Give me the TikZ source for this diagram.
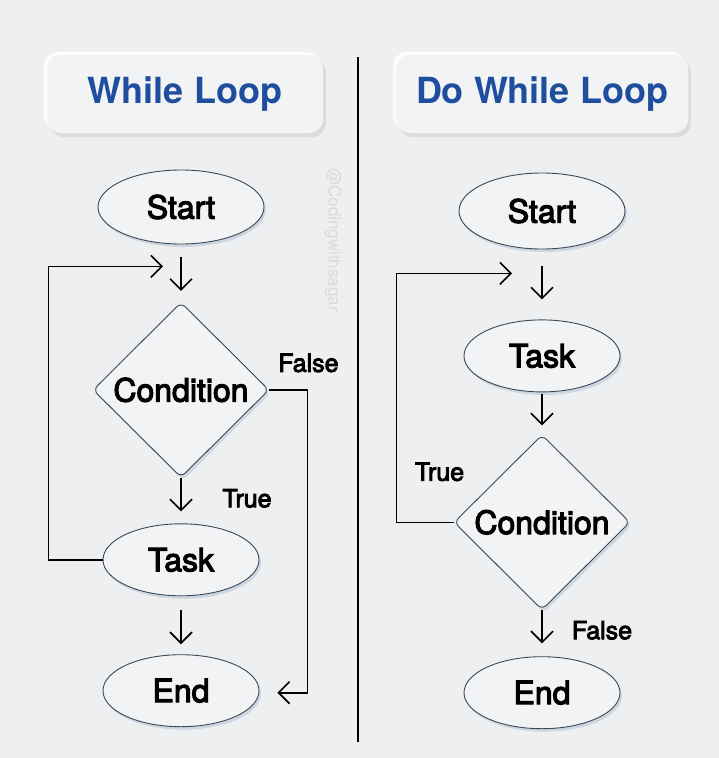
\documentclass[tikz,border=0pt]{standalone}
\usepackage{fontspec}
\setmainfont{TeX Gyre Heros}
\newfontfamily\medfont[FakeBold=3.5]{TeX Gyre Heros}
\usetikzlibrary{arrows.meta,positioning,calc,shapes.geometric,shadows}
\definecolor{Backdrop}{HTML}{EEEFF1}
\definecolor{Card}{HTML}{F2F3F5}
\definecolor{Outline}{HTML}{3C4855}
\definecolor{Glow}{HTML}{C5D1DF}
\definecolor{Heading}{HTML}{1F4E9E}
\definecolor{Faded}{HTML}{D8DADD}
\tikzset{
  titlebox/.style={fill=Card,rounded corners=14pt,minimum height=78pt,inner sep=0pt,text=Heading,font=\fontsize{36}{40}\selectfont\bfseries,
    general shadow={fill=white,shadow xshift=-3pt,shadow yshift=3pt,opacity=.9},
    drop shadow={fill=gray!70,shadow xshift=3pt,shadow yshift=-4pt,opacity=.25}},
  term/.style={ellipse,draw=Outline,fill=Card,line width=.9pt,minimum width=156pt,minimum height=72pt,inner sep=0pt,font=\medfont\fontsize{32}{36}\selectfont,
    drop shadow={fill=Glow,shadow xshift=2pt,shadow yshift=-3pt,opacity=.8}},
  test/.style={diamond,draw=Outline,fill=Card,line width=.9pt,rounded corners=6pt,minimum width=176pt,minimum height=175pt,inner sep=0pt,font=\medfont\fontsize{32}{36}\selectfont,
    drop shadow={fill=Glow,shadow xshift=2pt,shadow yshift=-3pt,opacity=.8}},
  flow/.style={-{Straight Barb[length=11pt,width=22pt]},line width=1.6pt,shorten <=12pt,shorten >=11pt},
  backline/.style={-{Straight Barb[length=11pt,width=22pt]},line width=1.6pt},
  branch/.style={font=\medfont\fontsize{25}{28}\selectfont}
}

\begin{document}
\begin{tikzpicture}
  \fill[Backdrop] (0,0) rectangle (719pt,-758pt);
  \useasboundingbox (0,0) rectangle (719pt,-758pt);

  % headings
  \node[titlebox,minimum width=276pt] (wtitle) at (185pt,-94pt) {While Loop};
  \node[titlebox,minimum width=292pt] (dtitle) at (542pt,-94pt) {Do While Loop};
  \draw[line width=2.8pt] (358pt,-57pt) -- (358pt,-742pt);
  \node[rotate=-90,text=Faded,font=\fontsize{17}{20}\selectfont] (mark) at (333pt,-240pt) {@Codingwithsagar};

  % while loop
  \node[term,minimum width=166pt,minimum height=74pt] (wstart) at (181pt,-207pt) {Start};
  \node[test,below=57.5pt of wstart] (wcond) {Condition};
  \node[term,below=45.5pt of wcond] (wtask) {Task};
  \node[term,below=58pt of wtask] (wend) {End};
  \coordinate (wmerge) at ($(wstart.south)+(-18pt,-22pt)$);
  \coordinate (wexit) at ($(wend.east)+(18pt,-2pt)$);
  \draw[flow,shorten <=13pt] (wstart) -- (wcond);
  \draw[flow,shorten <=0pt,shorten >=12pt] (wcond) -- (wtask);
  \draw[flow,shorten <=14pt,shorten >=10pt] (wtask) -- (wend);
  \draw[backline] (wtask.west) -- ++(-54pt,0) |- (wmerge);
  \draw[backline] (wcond.east) -- ++(38pt,0) |- (wexit);
  \node[branch] (wfalse) at ($(wcond.east)+(39pt,27pt)$) {False};
  \node[branch] (wtrue) at ($(wcond.south)+(66pt,-20.5pt)$) {True};

  % do while loop
  \node[term,minimum width=166pt,minimum height=76pt] (dstart) at (542pt,-211pt) {Start};
  \node[term,below=70pt of dstart] (dtask) {Task};
  \node[test,below=42pt of dtask] (dcond) {Condition};
  \node[term,below=46pt of dcond] (dend) {End};
  \coordinate (dmerge) at ($(dstart.south)+(-30pt,-24pt)$);
  \draw[flow,shorten <=17pt,shorten >=20pt] (dstart) -- (dtask);
  \draw[flow,shorten <=2pt,shorten >=9pt] (dtask) -- (dcond);
  \draw[flow,shorten <=0pt,shorten >=13pt] (dcond) -- (dend);
  \draw[backline] (dcond.west) -- ++(-57pt,0) |- (dmerge);
  \node[branch] (dtrue) at ($(dcond.west)+(-14pt,50.5pt)$) {True};
  \node[branch] (dfalse) at ($(dcond.south)+(60pt,-20pt)$) {False};
\end{tikzpicture}
\end{document}
